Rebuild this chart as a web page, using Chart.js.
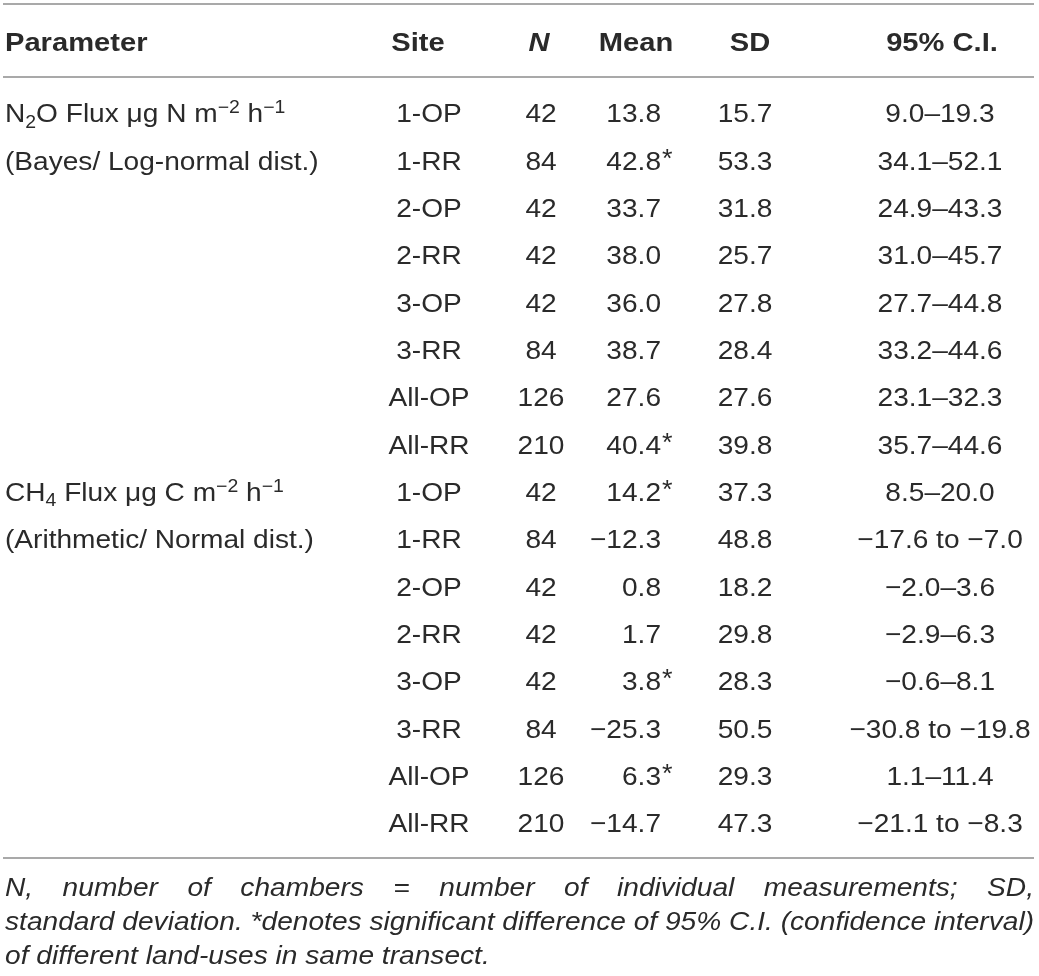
<!DOCTYPE html>
<html>
<head>
<meta charset="utf-8">
<script src="https://cdn.jsdelivr.net/npm/chart.js@4.4.1/dist/chart.umd.min.js"></script>
<style>
  html, body { margin: 0; padding: 0; background: #fff; }
  canvas { display: block; }
</style>
</head>
<body>
<canvas id="myChart" width="1039" height="976"></canvas>
<script>
const ctx = document.getElementById('myChart').getContext('2d');

// table content
const headers = ['Parameter', 'Site', 'N', 'Mean', 'SD', '95% C.I.'];
// _{..} = subscript, ^{..} = superscript
const paramLabels = [
  'N_{2}O Flux \u03bcg N m^{\u22122} h^{\u22121}',
  '(Bayes/ Log-normal dist.)',
  'CH_{4} Flux \u03bcg C m^{\u22122} h^{\u22121}',
  '(Arithmetic/ Normal dist.)'
];
const paramRows = [1, 2, 9, 10];
const sites = ['1-OP', '1-RR', '2-OP', '2-RR', '3-OP', '3-RR', 'All-OP', 'All-RR',
               '1-OP', '1-RR', '2-OP', '2-RR', '3-OP', '3-RR', 'All-OP', 'All-RR'];
const nValues = [42, 84, 42, 42, 42, 84, 126, 210, 42, 84, 42, 42, 42, 84, 126, 210];
const means = [13.8, 42.8, 33.7, 38.0, 36.0, 38.7, 27.6, 40.4,
               14.2, -12.3, 0.8, 1.7, 3.8, -25.3, 6.3, -14.7];
const meanSig = [0, 1, 0, 0, 0, 0, 0, 1, 1, 0, 0, 0, 1, 0, 1, 0];
const sds = [15.7, 53.3, 31.8, 25.7, 27.8, 28.4, 27.6, 39.8,
             37.3, 48.8, 18.2, 29.8, 28.3, 50.5, 29.3, 47.3];
const ciLow = [9.0, 34.1, 24.9, 31.0, 27.7, 33.2, 23.1, 35.7,
               8.5, -17.6, -2.0, -2.9, -0.6, -30.8, 1.1, -21.1];
const ciHigh = [19.3, 52.1, 43.3, 45.7, 44.8, 44.6, 32.3, 44.6,
                20.0, -7.0, 3.6, 6.3, 8.1, -19.8, 11.4, -8.3];
const footnote = [
  'N, number of chambers = number of individual measurements; SD,',
  'standard deviation. *denotes significant difference of 95% C.I. (confidence interval)',
  'of different land-uses in same transect.'
];

// layout (x in page pixels, y in row units)
const colX = { param: 5, site: 429, n: 541, mean: 661, sd: 745, ci: 940 };
const headX = [5, 418, 539, 636, 750, 942];
const headRow = -0.5;
const ruleRows = [-1.3, 0.24, 16.74];
const noteRows = [17.35, 18.07, 18.79];
const FONT = "'Liberation Sans', Arial, sans-serif";
const INK = '#2a2a2a';

const rows = sites.map((s, i) => i + 1);
const fmt = v => (v < 0 ? '\u2212' : '') + Math.abs(v).toFixed(1);
const ciText = ciLow.map((lo, i) => ciHigh[i] < 0 ? fmt(lo) + ' to ' + fmt(ciHigh[i]) : fmt(lo) + '\u2013' + fmt(ciHigh[i]));

function parseRuns(s) {
  const runs = [];
  const re = /([_^])\{([^}]*)\}/g;
  let last = 0, m;
  while ((m = re.exec(s))) {
    if (m.index > last) runs.push({ t: s.slice(last, m.index), k: '' });
    runs.push({ t: m[2], k: m[1] });
    last = re.lastIndex;
  }
  if (last < s.length) runs.push({ t: s.slice(last), k: '' });
  return runs;
}

function drawRich(c, s, x, y, o) {
  const size = o.size || 26;
  const runs = parseRuns(s);
  const fontFor = k => `${o.style || 'normal'} ${o.weight || 'normal'} ${k ? Math.round(size * 0.68) : size}px ${FONT}`;
  let w = 0;
  runs.forEach(r => { c.font = fontFor(r.k); r.w = c.measureText(r.t).width; w += r.w; });
  c.save();
  c.translate(x, y);
  c.scale(o.sx || 1, 1);
  c.fillStyle = INK;
  c.textBaseline = 'alphabetic';
  let cx = o.align === 'center' ? -w / 2 : o.align === 'right' ? -w : 0;
  const base = size * 0.36 + (o.lift || 0);
  runs.forEach(r => {
    c.font = fontFor(r.k);
    const dy = r.k === '_' ? size * 0.2 : r.k === '^' ? -size * 0.36 : 0;
    c.fillText(r.t, cx, base + dy);
    cx += r.w;
  });
  c.restore();
}

function drawNote(c, s, x, y, justify, chart) {
  const size = 25;
  c.save();
  c.font = `italic normal ${size}px ${FONT}`;
  const full = chart.scales.x.getPixelForValue(1034) - x;
  const sx = full / c.measureText(footnote[1]).width;
  c.translate(x, y);
  c.scale(sx, 1);
  c.fillStyle = INK;
  c.textBaseline = 'alphabetic';
  const base = size * 0.36;
  if (justify) {
    const words = s.split(' ');
    const ws = words.map(wd => c.measureText(wd).width);
    const gap = (full / sx - ws.reduce((a, b) => a + b, 0)) / (words.length - 1);
    let cx = 0;
    words.forEach((wd, i) => { c.fillText(wd, cx, base); cx += ws[i] + gap; });
  } else {
    c.fillText(s, 0, base);
  }
  c.restore();
}

const cellText = {
  id: 'cellText',
  afterDatasetsDraw(chart) {
    const c = chart.ctx;
    chart.data.datasets.forEach((ds, i) => {
      if (!ds.cells) return;
      chart.getDatasetMeta(i).data.forEach((pt, j) => {
        const s = String(ds.cells[j]);
        if (ds.note) {
          drawNote(c, s, pt.x, pt.y, j === 0, chart);
          return;
        }
        const bold = ds.head;
        drawRich(c, s, pt.x, pt.y, {
          align: ds.head ? (j === 0 ? 'left' : 'center') : ds.align,
          weight: bold ? 'bold' : 'normal',
          style: ds.head && s === 'N' ? 'italic' : 'normal',
          sx: bold ? 1.12 : 1.08
        });
        if (ds.marks && ds.marks[j]) {
          // significance asterisk hung after the right-aligned number
          drawRich(c, '*', pt.x + 1, pt.y, { align: 'left', size: 25, lift: -2.5, sx: 1.08 });
        }
      });
    });
  }
};

const rule = v => ({
  data: [{ x: 3, y: v }, { x: 1034, y: v }],
  showLine: true, borderColor: '#a9a9a9', borderWidth: 2, pointRadius: 0
});
const column = (x, cells, align, extra) => Object.assign({
  data: rows.map(r => ({ x: x, y: r })), cells: cells, align: align, pointRadius: 0
}, extra || {});

const data = {
  datasets: [
    ...ruleRows.map(rule),
    { data: headX.map(x => ({ x: x, y: headRow })), cells: headers, head: true, pointRadius: 0 },
    { data: paramRows.map(r => ({ x: colX.param, y: r })), cells: paramLabels, align: 'left', pointRadius: 0 },
    column(colX.site, sites, 'center'),
    column(colX.n, nValues, 'center'),
    column(colX.mean, means.map(fmt), 'right', { marks: meanSig }),
    column(colX.sd, sds.map(v => v.toFixed(1)), 'center'),
    column(colX.ci, ciText, 'center'),
    { data: noteRows.map(r => ({ x: 5, y: r })), cells: footnote, note: true, pointRadius: 0 }
  ]
};

const config = {
  type: 'scatter',
  data,
  options: {
    responsive: false,
    animation: false,
    events: [],
    layout: { padding: 0 },
    plugins: { legend: { display: false }, tooltip: { enabled: false } },
    scales: {
      x: { type: 'linear', min: 0, max: 1039, display: false },
      y: { type: 'linear', min: -1.387, max: 19.233, reverse: true, display: false }
    }
  },
  plugins: [cellText]
};

const myChart = new Chart(ctx, config);
</script>
</body>
</html>
